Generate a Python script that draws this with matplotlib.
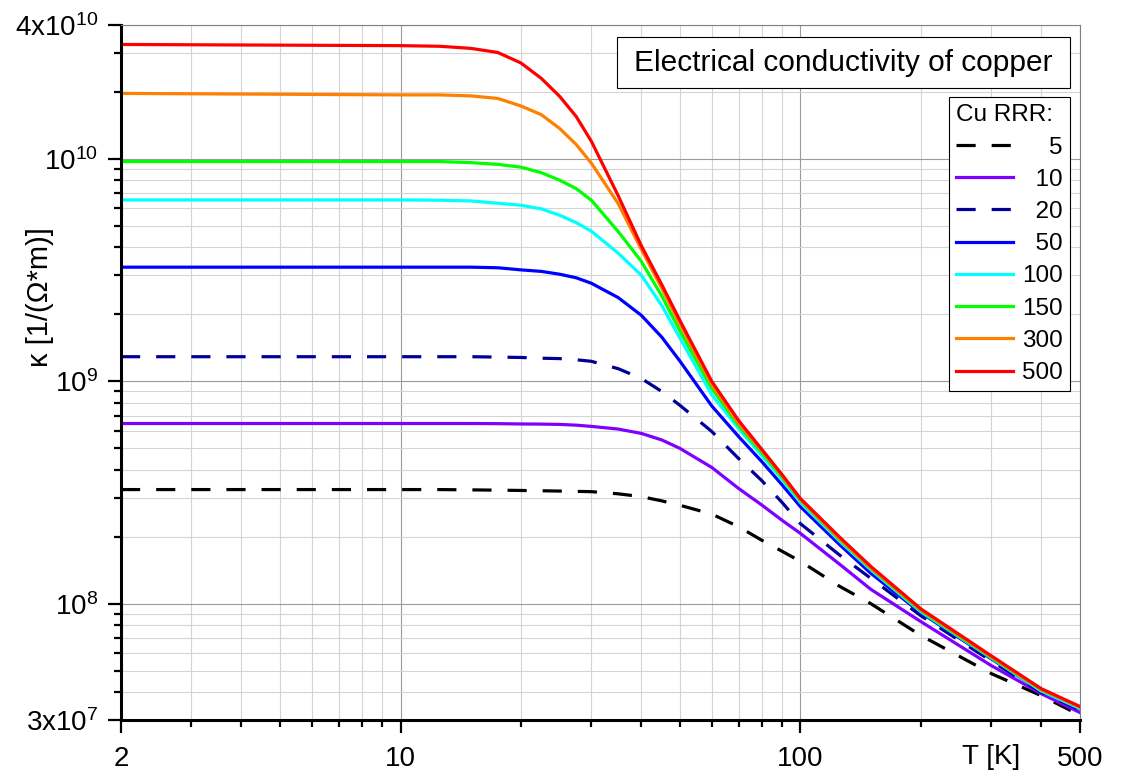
import matplotlib
matplotlib.use("Agg")
import numpy as np
import matplotlib.pyplot as plt
from matplotlib.ticker import FixedLocator, FixedFormatter, LogLocator, NullFormatter
from matplotlib.patches import Rectangle

# ---------------- data ----------------
T_K = [2, 10, 12.5, 15, 17.5, 20, 22.5, 25, 27.5, 30, 35, 40, 45, 50, 60, 70,
       80, 90, 100, 125, 150, 200, 300, 400, 500]

kappa_rrr5 = [3.26e8, 3.26e8, 3.26e8, 3.25e8, 3.24e8, 3.23e8, 3.22e8, 3.21e8,
              3.20e8, 3.19e8, 3.12e8, 3.03e8, 2.90e8, 2.77e8, 2.53e8, 2.22e8,
              1.93e8, 1.72e8, 1.55e8, 1.20e8, 1.00e8, 7.2e7, 4.85e7, 3.86e7,
              3.15e7]
kappa_rrr10 = [6.46e8, 6.46e8, 6.46e8, 6.46e8, 6.45e8, 6.43e8, 6.42e8, 6.40e8,
               6.35e8, 6.27e8, 6.10e8, 5.83e8, 5.45e8, 4.99e8, 4.10e8, 3.30e8,
               2.78e8, 2.37e8, 2.07e8, 1.51e8, 1.16e8, 8.31e7, 5.27e7, 3.94e7,
               3.24e7]
kappa_rrr20 = [1.29e9, 1.29e9, 1.29e9, 1.29e9, 1.285e9, 1.28e9, 1.27e9, 1.265e9,
               1.25e9, 1.23e9, 1.14e9, 1.03e9, 9.0e8, 7.79e8, 5.95e8, 4.50e8,
               3.58e8, 2.85e8, 2.29e8, 1.66e8, 1.30e8, 8.83e7, 5.53e7, 4.00e7,
               3.34e7]
kappa_rrr50 = [3.26e9, 3.26e9, 3.26e9, 3.26e9, 3.24e9, 3.17e9, 3.12e9, 3.03e9,
               2.92e9, 2.76e9, 2.38e9, 1.98e9, 1.58e9, 1.23e9, 7.75e8, 5.65e8,
               4.36e8, 3.42e8, 2.73e8, 1.85e8, 1.37e8, 9.1e7, 5.65e7, 4.05e7,
               3.37e7]
kappa_rrr100 = [6.54e9, 6.54e9, 6.52e9, 6.47e9, 6.32e9, 6.19e9, 5.96e9, 5.58e9,
                5.17e9, 4.73e9, 3.77e9, 3.00e9, 2.19e9, 1.56e9, 8.7e8, 6.14e8,
                4.64e8, 3.62e8, 2.85e8, 1.92e8, 1.42e8, 9.2e7, 5.70e7, 4.05e7,
                3.38e7]
kappa_rrr150 = [9.73e9, 9.73e9, 9.73e9, 9.62e9, 9.45e9, 9.18e9, 8.67e9, 8.02e9,
                7.35e9, 6.52e9, 4.72e9, 3.46e9, 2.42e9, 1.68e9, 9.3e8, 6.33e8,
                4.79e8, 3.70e8, 2.91e8, 1.95e8, 1.44e8, 9.3e7, 5.72e7, 4.10e7,
                3.42e7]
kappa_rrr300 = [1.97e10, 1.94e10, 1.94e10, 1.92e10, 1.87e10, 1.73e10, 1.58e10,
                1.37e10, 1.16e10, 9.57e9, 6.3e9, 3.92e9, 2.62e9, 1.80e9, 9.7e8,
                6.47e8, 4.89e8, 3.76e8, 2.94e8, 1.97e8, 1.45e8, 9.4e7, 5.78e7,
                4.12e7, 3.43e7]
kappa_rrr500 = [3.27e10, 3.23e10, 3.21e10, 3.14e10, 3.01e10, 2.70e10, 2.30e10,
                1.91e10, 1.55e10, 1.20e10, 6.84e9, 4.07e9, 2.72e9, 1.87e9, 1.0e9,
                6.67e8, 4.95e8, 3.80e8, 2.97e8, 2.00e8, 1.47e8, 9.48e7, 5.83e7,
                4.15e7, 3.45e7]

rrr_labels = ['5', '10', '20', '50', '100', '150', '300', '500']
series = [kappa_rrr5, kappa_rrr10, kappa_rrr20, kappa_rrr50,
          kappa_rrr100, kappa_rrr150, kappa_rrr300, kappa_rrr500]
colors = ['#000000', '#8000FF', '#000099', '#0000FF',
          '#00FFFF', '#00FF00', '#FF8000', '#FF0000']
dashed = [True, False, True, False, False, False, False, False]

x_ticks = [2, 10, 100, 500]
x_ticklabels = ['2', '10', '100', '500']
y_ticks = [3e7, 1e8, 1e9, 1e10, 4e10]
y_ticklabels = [r'$\mathregular{3x10^{7}}$', r'$\mathregular{10^{8}}$',
                r'$\mathregular{10^{9}}$', r'$\mathregular{10^{10}}$',
                r'$\mathregular{4x10^{10}}$']

# ---------------- style ----------------
plt.rcParams['font.family'] = ['Liberation Sans', 'DejaVu Sans']
plt.rcParams['mathtext.fontset'] = 'custom'
plt.rcParams['mathtext.rm'] = 'Liberation Sans'
plt.rcParams['mathtext.it'] = 'Liberation Sans:italic'
plt.rcParams['mathtext.bf'] = 'Liberation Sans:bold'

fig = plt.figure(figsize=(11.24, 7.74), dpi=100)
ax = fig.add_axes([0.10765, 0.069767, 0.85320, 0.89793])
ax.set_xscale('log')
ax.set_yscale('log')

handles = []
for vals, col, dsh in zip(series, colors, dashed):
    ln, = ax.plot(T_K, vals, color=col, lw=2.3, solid_joinstyle='round',
                  dash_joinstyle='round')
    if dsh:
        ln.set_dashes((6, 5))
    handles.append(ln)

ax.set_xlim(2, 500)
ax.set_ylim(3e7, 4e10)

ax.xaxis.set_major_locator(FixedLocator(x_ticks))
ax.xaxis.set_major_formatter(FixedFormatter(x_ticklabels))
ax.xaxis.set_minor_locator(LogLocator(base=10, subs=np.arange(2, 10), numticks=20))
ax.xaxis.set_minor_formatter(NullFormatter())
ax.yaxis.set_major_locator(FixedLocator(y_ticks))
ax.yaxis.set_major_formatter(FixedFormatter(y_ticklabels))
ax.yaxis.set_minor_locator(LogLocator(base=10, subs=np.arange(2, 10), numticks=20))
ax.yaxis.set_minor_formatter(NullFormatter())

ax.set_axisbelow(True)
ax.grid(which='minor', color='#d4d4d4', lw=0.8)
ax.grid(which='major', color='#9a9a9a', lw=0.8)

for s in ['left', 'bottom']:
    ax.spines[s].set_linewidth(2.2)
    ax.spines[s].set_color('black')
for s in ['top', 'right']:
    ax.spines[s].set_linewidth(0.8)
    ax.spines[s].set_color('#808080')

ax.tick_params(which='major', direction='out', length=9.5, width=1.6,
               labelsize=20, colors='black')
ax.tick_params(which='minor', direction='out', length=5, width=1.6)
ax.tick_params(axis='y', which='major', pad=7)
ax.tick_params(axis='x', which='major', pad=9)

ax.set_ylabel('κ [1/(Ω*m)]', fontsize=21)
ax.yaxis.label.set_va('center')
ax.yaxis.set_label_coords(-0.0845, 0.608)
ax.set_xlabel('T [K]', fontsize=20)
ax.xaxis.label.set_va('center')
ax.xaxis.set_label_coords(0.9077, -0.0532)

# title box
ax.add_patch(Rectangle((0.5172, 0.9094), 0.4724, 0.0734, transform=ax.transAxes,
                       facecolor='white', edgecolor='black', lw=0.8, zorder=5))
ax.text(0.7534, 0.946, 'Electrical conductivity of copper', transform=ax.transAxes,
        ha='center', va='center', fontsize=21.5, zorder=6)

# legend with right-aligned numbers (2 spaces = 1 digit width in Liberation Sans)
leg_labels = ['  ' * (3 - len(s)) + s for s in rrr_labels]
leg = ax.legend(handles, leg_labels, title='Cu RRR:', loc='upper right',
                bbox_to_anchor=(0.9896, 0.8964), borderaxespad=0,
                fontsize=17.5, title_fontsize=17.5, alignment='left',
                frameon=True, fancybox=False, edgecolor='black', framealpha=1,
                handlelength=2.35, handletextpad=0.35, labelspacing=0.42,
                borderpad=0.3)
leg.get_frame().set_linewidth(0.8)
leg.set_zorder(6)

fig.savefig('out.png', dpi=100)
